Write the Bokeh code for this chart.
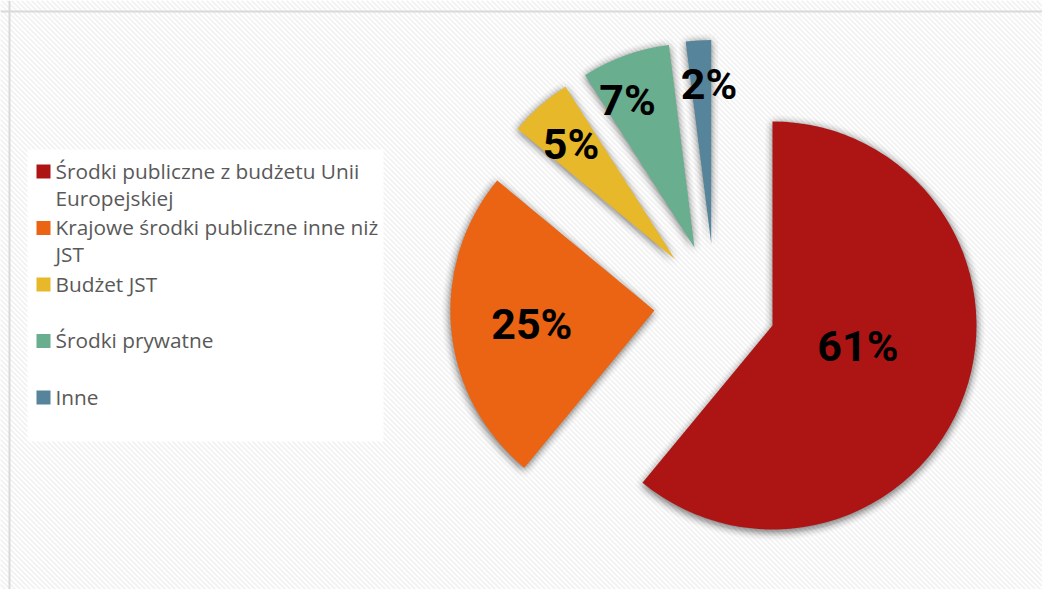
import numpy as np
from bokeh.plotting import figure
from bokeh.models import Range1d, Span, ColumnDataSource
from bokeh.core.properties import value
from bokeh.embed import file_html
from bokeh.resources import INLINE

# ---- data ----
categories = [
    "Środki publiczne z budżetu Unii\nEuropejskiej",
    "Krajowe środki publiczne inne niż\nJST",
    "Budżet JST",
    "Środki prywatne",
    "Inne",
]
shares = [61, 25, 5, 7, 2]
pct_labels = ["61%", "25%", "5%", "7%", "2%"]
colors = ["#AD1515", "#EA6413", "#E8B82B", "#6AAE90", "#56849A"]

# ---- style / layout ----
label_frac = [0.431, 0.604, 0.76, 0.792, 0.784]
label_nudge_deg = [6.0, 0.65, 0.6, 4.7, -2.8]
W, H = 1042, 589
CX, CY = 714.6, 284.7
R = 204
EXPLODE = 61

p = figure(width=W, height=H, x_range=Range1d(0, W), y_range=Range1d(0, H),
           output_backend="svg", toolbar_location=None, min_border=0)
p.axis.visible = False
p.grid.visible = False
p.outline_line_color = None
p.background_fill_color = "white"
p.border_fill_color = "white"

# diagonal striped background
x0 = np.arange(-H, W + 5, 5.0)
p.segment(x0=x0, y0=[H] * len(x0), x1=x0 + H, y1=[0] * len(x0),
          line_color="#F2F2F2", line_width=1.9)

# chart border (left / top)
p.add_layout(Span(location=9, dimension="height", line_color="#D9D9D9", line_width=2))
p.add_layout(Span(location=H - 11, dimension="width", line_color="#D9D9D9", line_width=2))

# slice geometry
vals = np.array(shares, dtype=float)
cum = np.concatenate([[0], np.cumsum(vals)]) / vals.sum()
start_cw = np.deg2rad(90 - 360 * cum[:-1])
end_cw = np.deg2rad(90 - 360 * cum[1:])
mid = (start_cw + end_cw) / 2
ax = CX + EXPLODE * np.cos(mid)
ay = CY + EXPLODE * np.sin(mid)

# soft shadow
sx, sy, s0, s1 = [], [], [], []
for k in [2, 4, 6, 8]:
    for j in range(12):
        th = 2 * np.pi * j / 12
        sx += list(ax + k * np.cos(th))
        sy += list(ay + k * np.sin(th) - 2)
        s0 += list(end_cw)
        s1 += list(start_cw)
p.wedge(x=sx, y=sy, radius=R + 1, start_angle=s0, end_angle=s1,
        fill_color="black", fill_alpha=0.012, line_color=None)

src = ColumnDataSource(dict(x=ax, y=ay, a0=end_cw, a1=start_cw, color=colors))
p.wedge(x="x", y="y", radius=R, start_angle="a0", end_angle="a1",
        fill_color="color", line_color=None, source=src)

lf = np.array(label_frac)
la = mid + np.deg2rad(label_nudge_deg)
lsrc = ColumnDataSource(dict(x=ax + lf * R * np.cos(la), y=ay + lf * R * np.sin(la),
                             t=pct_labels))
p.text(x="x", y="y", text="t", source=lsrc, text_align="center", text_baseline="middle",
       text_font=value("Roboto"), text_font_style="bold", text_font_size="43px",
       text_color="black")

# legend
p.quad(left=[27], right=[383], bottom=[148], top=[440], fill_color="white",
       line_color=None)
n = len(categories)
row_y = 418 - 56.5 * np.arange(n)
p.rect(x=[43] * n, y=row_y, width=14, height=14, fill_color=colors, line_color=None)
p.text(x=[55] * n, y=row_y + 15, text=categories, text_align="left", text_baseline="top",
       text_font=value("Open Sans"), text_font_size="20.8px", text_color="#595959",
       text_line_height=0.97)

open("out.html", "w").write(file_html(p, INLINE))
